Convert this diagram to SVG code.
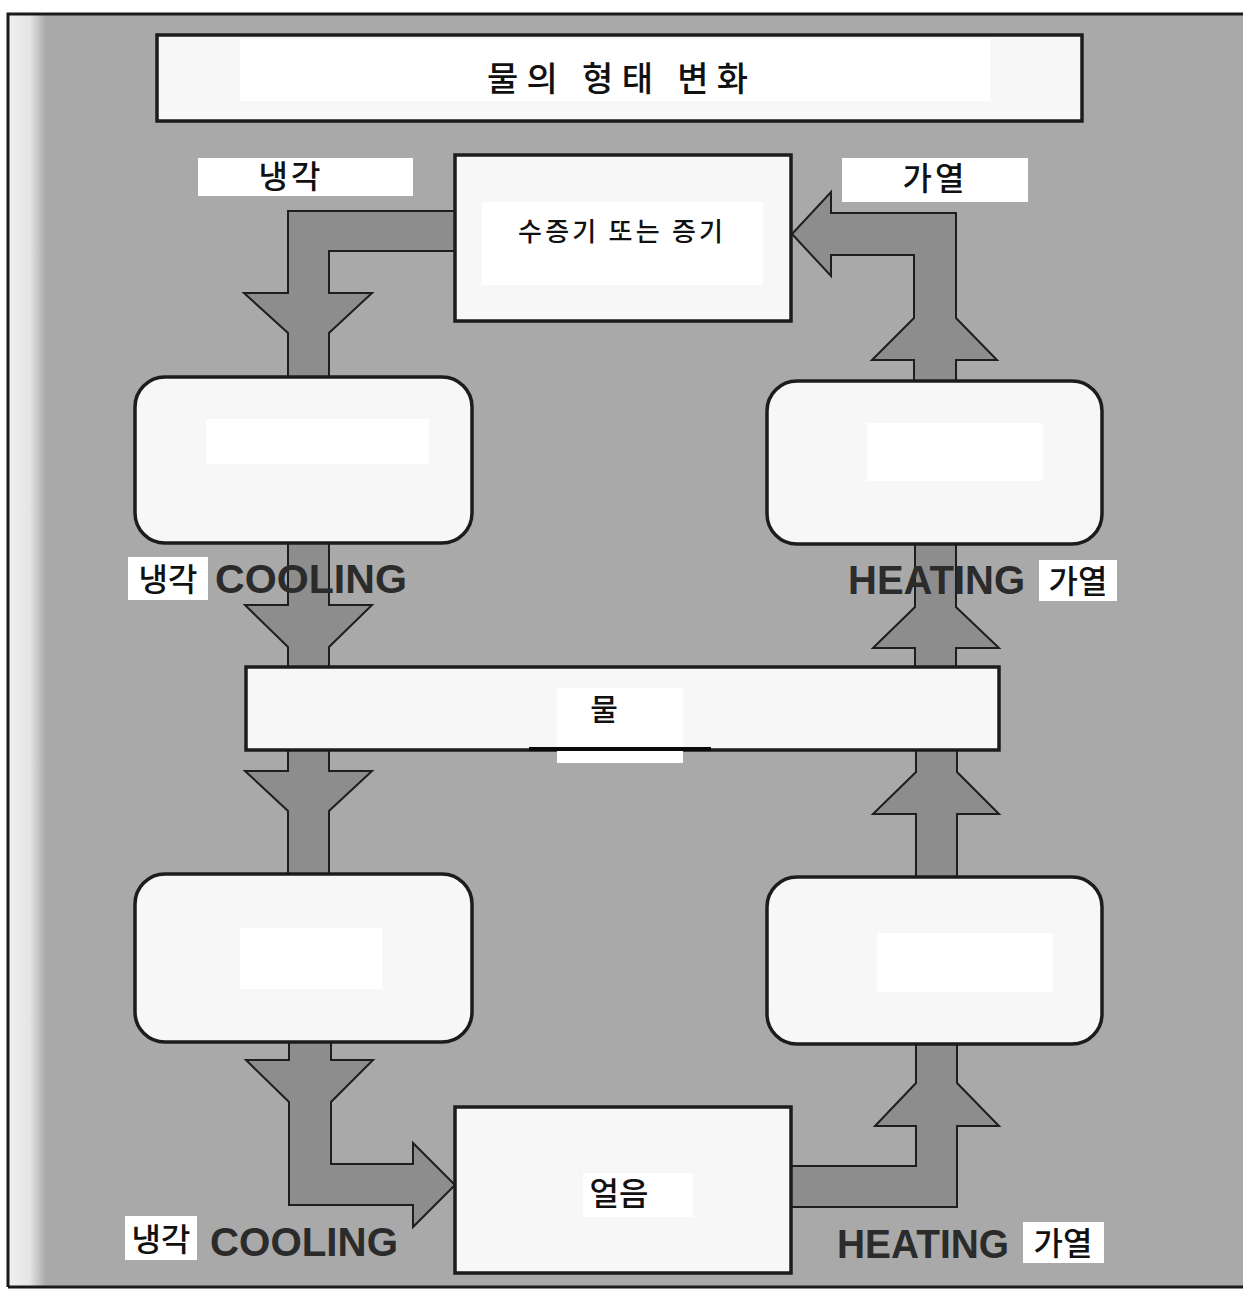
<svg xmlns="http://www.w3.org/2000/svg" width="1243" height="1290" viewBox="0 0 1243 1290">
<defs>
<linearGradient id="strip" x1="9" y1="0" x2="46" y2="0" gradientUnits="userSpaceOnUse">
<stop offset="0" stop-color="#efefef"/>
<stop offset="0.55" stop-color="#e6e6e6"/>
<stop offset="1" stop-color="#a9a9a9"/>
</linearGradient>
<style>
.box{fill:#f7f7f7;stroke:#1c1c1c;stroke-width:3.5}
.inner{fill:#ffffff}
.lbl{fill:#ffffff}
.arrow{fill:#8d8d8d;stroke:#1e1e1e;stroke-width:2;stroke-linejoin:miter}
.kr{font-family:"Noto Sans CJK KR","Noto Sans",sans-serif;font-weight:500;fill:#111111}
.en{font-family:"Liberation Sans",Arial,sans-serif;font-weight:bold;fill:#2b2b2b}
</style>
</defs>
<rect x="0" y="0" width="1243" height="1290" fill="#ffffff"/>
<rect x="9" y="14" width="1234" height="1273" fill="#a9a9a9"/>
<rect x="9" y="14" width="37" height="1273" fill="url(#strip)"/>
<path d="M8,1287 L8,14 L1243,14" fill="none" stroke="#1a1a1a" stroke-width="3"/>
<line x1="8" y1="1287" x2="1243" y2="1287" stroke="#1a1a1a" stroke-width="3"/>

<g id="connectors">
<path class="arrow" d="M455,211 L288,211 L288,293 L244,293 L288,333 L288,378 L329,378 L329,333 L372,293 L329,293 L329,251 L455,251 Z"/>
<path class="arrow" d="M288,543 L288,605 L245,605 L288,647 L288,668 L329,668 L329,647 L372,605 L329,605 L329,543 Z"/>
<path class="arrow" d="M288,750 L288,771 L245,771 L288,811 L288,875 L329,875 L329,811 L372,771 L329,771 L329,750 Z"/>
<path class="arrow" d="M289,1042 L289,1060 L246,1060 L289,1102 L289,1205 L413,1205 L413,1227 L455,1185 L413,1143 L413,1164 L331,1164 L331,1102 L373,1060 L331,1060 L331,1042 Z"/>
<path class="arrow" d="M791,1166 L916,1166 L916,1126 L875,1126 L916,1083 L916,1044 L957,1044 L957,1083 L999,1126 L957,1126 L957,1207 L791,1207 Z"/>
<path class="arrow" d="M916,877 L916,814 L873,814 L916,772 L916,750 L957,750 L957,772 L999,814 L957,814 L957,877 Z"/>
<path class="arrow" d="M915,668 L915,648 L873,648 L915,607 L915,544 L956,544 L956,607 L999,648 L956,648 L956,668 Z"/>
<path class="arrow" d="M914,381 L914,360 L872,360 L914,318 L914,255 L831,255 L831,276 L792,234 L831,192 L831,213 L956,213 L956,318 L997,360 L956,360 L956,381 Z"/>
</g>

<g id="title">
<rect class="box" x="157" y="35" width="925" height="86"/>
<rect class="inner" x="240" y="39" width="750" height="62"/>
<text class="kr" x="487" y="91" font-size="34" textLength="261" lengthAdjust="spacing">물의 형태 변화</text>
</g>

<g id="vapor">
<rect class="box" x="455" y="155" width="336" height="166"/>
<rect class="inner" x="482" y="202" width="281" height="83"/>
<text class="kr" x="518" y="241" font-size="26" textLength="205" lengthAdjust="spacing">수증기 또는 증기</text>
</g>

<g id="box-top-left">
<rect class="box" x="135" y="377" width="337" height="166" rx="30" ry="30"/>
<rect class="inner" x="206" y="419" width="223" height="45"/>
</g>

<g id="box-top-right">
<rect class="box" x="767" y="381" width="335" height="163" rx="30" ry="30"/>
<rect class="inner" x="867" y="423" width="176" height="58"/>
</g>

<g id="water">
<rect class="box" x="246" y="667" width="753" height="83"/>
<rect class="inner" x="557" y="688" width="126" height="75"/>
<rect x="529" y="747" width="182" height="4" fill="#0a0a0a"/>
<text class="kr" x="604" y="720" font-size="30" text-anchor="middle">물</text>
</g>

<g id="box-bottom-left">
<rect class="box" x="135" y="874" width="337" height="168" rx="30" ry="30"/>
<rect class="inner" x="240" y="928" width="142" height="61"/>
</g>

<g id="box-bottom-right">
<rect class="box" x="767" y="877" width="335" height="167" rx="30" ry="30"/>
<rect class="inner" x="877" y="933" width="176" height="59"/>
</g>

<g id="ice">
<rect class="box" x="455" y="1107" width="336" height="166"/>
<rect class="inner" x="583" y="1173" width="110" height="44"/>
<text class="kr" x="619" y="1205" font-size="32" text-anchor="middle">얼음</text>
</g>

<g id="label-cool-top">
<rect class="lbl" x="198" y="158" width="215" height="38"/>
<text class="kr" x="291" y="188" font-size="32" text-anchor="middle" letter-spacing="3">냉각</text>
</g>
<g id="label-heat-top">
<rect class="lbl" x="842" y="158" width="186" height="44"/>
<text class="kr" x="935" y="190" font-size="32" text-anchor="middle" letter-spacing="3">가열</text>
</g>

<g id="label-cool-mid">
<rect class="lbl" x="128" y="557" width="80" height="43"/>
<text class="kr" x="168" y="591" font-size="32" text-anchor="middle">냉각</text>
<text class="en" x="215" y="593" font-size="40" textLength="192" lengthAdjust="spacingAndGlyphs">COOLING</text>
</g>
<g id="label-heat-mid">
<text class="en" x="848" y="594" font-size="40" textLength="177" lengthAdjust="spacingAndGlyphs">HEATING</text>
<rect class="lbl" x="1039" y="560" width="78" height="41"/>
<text class="kr" x="1078" y="593" font-size="32" text-anchor="middle">가열</text>
</g>

<g id="label-cool-bottom">
<rect class="lbl" x="125" y="1216" width="72" height="44"/>
<text class="kr" x="161" y="1251" font-size="32" text-anchor="middle">냉각</text>
<text class="en" x="210" y="1256" font-size="40" textLength="188" lengthAdjust="spacingAndGlyphs">COOLING</text>
</g>
<g id="label-heat-bottom">
<text class="en" x="837" y="1258" font-size="40" textLength="172" lengthAdjust="spacingAndGlyphs">HEATING</text>
<rect class="lbl" x="1023" y="1222" width="81" height="41"/>
<text class="kr" x="1063" y="1255" font-size="32" text-anchor="middle">가열</text>
</g>
</svg>
